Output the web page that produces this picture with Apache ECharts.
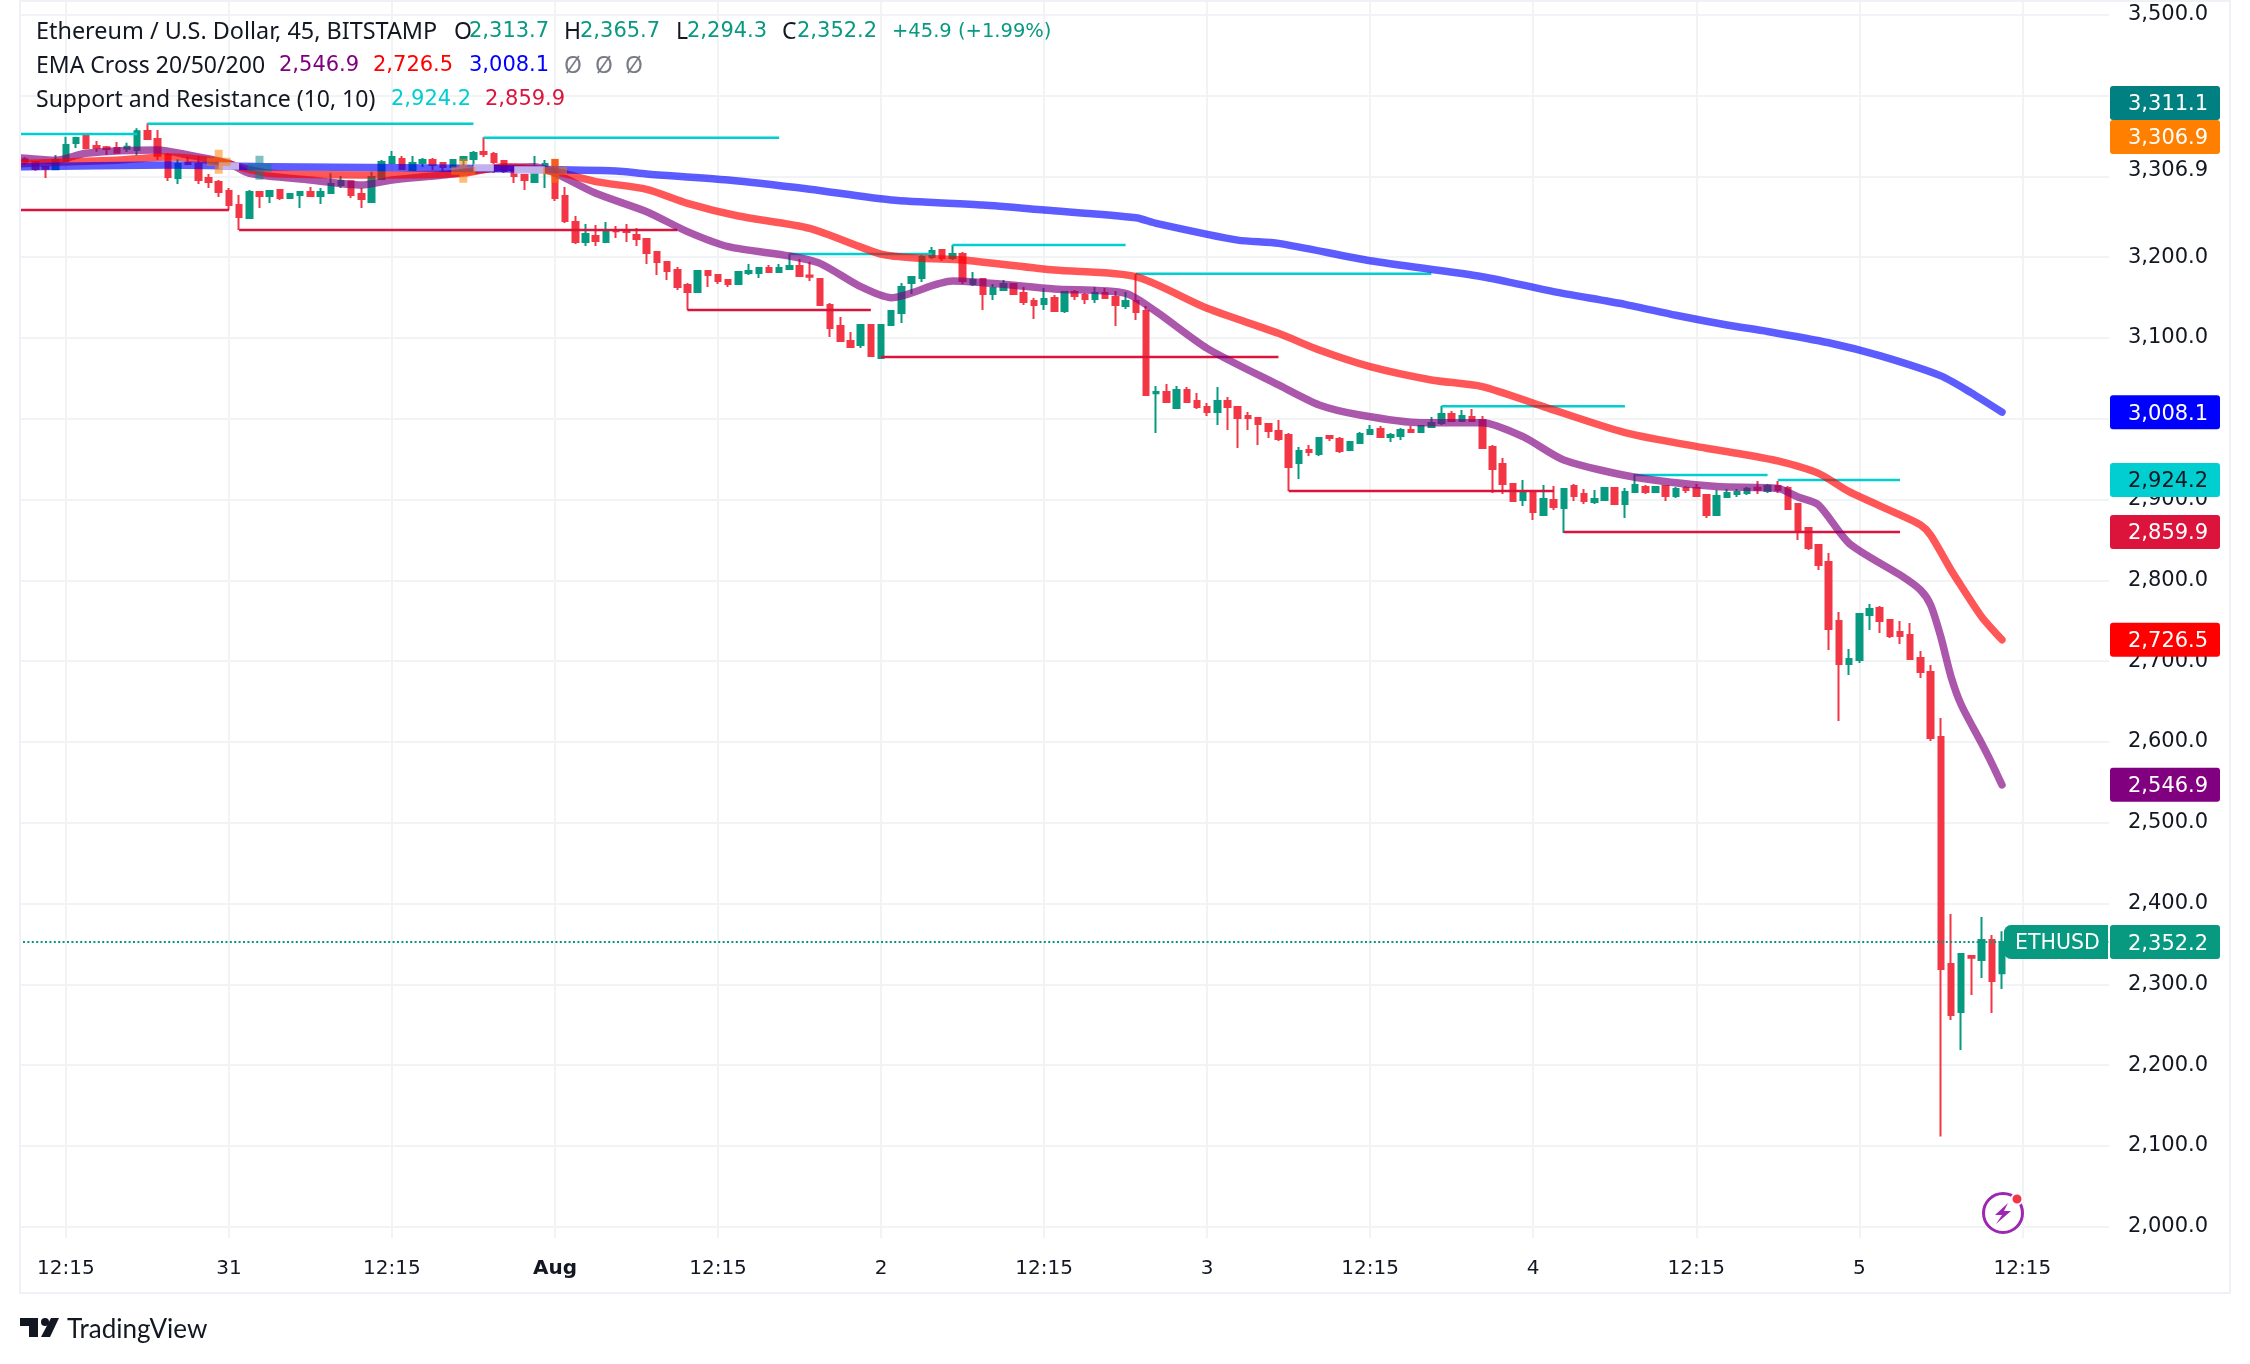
<!DOCTYPE html>
<html><head><meta charset="utf-8">
<style>html,body{margin:0;padding:0;background:#fff}#c{width:2250px;height:1364px}</style>
<script src="https://cdn.jsdelivr.net/npm/echarts@6/dist/echarts.min.js"></script>
</head><body><div id="c"></div>
<script>
// Each candle: open, close, low, high
const candles = [
[3321,3317.3,3314,3323.5],[3317.7,3309,3307,3318.1],[3311.5,3309.5,3297.9,3311.5],[3308.7,3320.2,3307.8,3326.4],
[3318.6,3338.8,3318.6,3349.1],[3341.2,3347.4,3335,3349.1],[3350.3,3335,3333.4,3353.2],[3337.5,3335,3330.5,3343.7],
[3335.9,3333.8,3326.4,3337.5],[3335,3329.3,3328.5,3342.5],[3334.2,3336.7,3330.1,3341.7],[3332.6,3355.7,3326,3359.4],
[3356.1,3346.2,3345,3365.6],[3346.2,3325.6,3320.2,3357.3],[3326.4,3299.2,3294.2,3328.5],[3297.9,3315.3,3290.5,3321],
[3316.9,3315.3,3314,3324.3],[3315.3,3295.4,3290.5,3325.2],[3297.9,3293,3285.6,3302.9],[3293,3280.6,3274.4,3295.4],
[3281.8,3264.5,3258.3,3285.6],[3264.5,3249.7,3233.6,3276.9],[3248.4,3280.6,3248.4,3283.1],[3280.6,3275.7,3260.8,3280.6],
[3275.7,3281.8,3267,3283.1],[3283.1,3273.2,3270.7,3283.1],[3273.2,3278.1,3271.9,3279.4],[3276.9,3280.6,3260.8,3280.6],
[3280.6,3275.7,3275.7,3286.8],[3275.7,3280.6,3265.7,3285.6],[3279.4,3290.5,3279.4,3303.7],[3289.3,3294.2,3285.6,3300.4],
[3293.8,3276.9,3273.2,3293.8],[3278.1,3271.9,3260.8,3285.6],[3268.2,3299.2,3267,3305.8],[3296.7,3317.7,3296.7,3320.2],
[3316.5,3323.9,3316.5,3331.3],[3321.4,3309,3307.8,3325.2],[3307.8,3316.5,3307.8,3325.2],[3316.5,3320.2,3311.5,3322.7],
[3320.2,3314,3307.8,3322.7],[3316.5,3311.5,3305.4,3316.5],[3311.5,3320.2,3311.5,3320.2],[3320.2,3323.9,3314,3323.9],
[3321.4,3328.9,3312.8,3331.3],[3330.1,3327.6,3323.9,3348.3],[3327.6,3317.7,3304.1,3330.1],[3319,3306.6,3304.1,3320.2],
[3307.8,3300.4,3291.7,3314],[3301.6,3295.4,3283.1,3301.6],[3293,3311.5,3293,3325.2],[3313.6,3315.3,3285.6,3320.2],
[3320.2,3273.2,3269.5,3320.2],[3275.7,3244.7,3242.2,3286.8],[3243.5,3218.7,3216.2,3250.9],[3218.7,3228.6,3213.7,3241],
[3226.1,3220,3213.7,3239.7],[3218.7,3232.3,3217.5,3243.4],[3233.5,3231.9,3223.6,3238.5],[3233.5,3231.1,3218.7,3241],
[3227.4,3222.4,3213.7,3236],[3222.4,3205.1,3191.5,3222.4],[3206.3,3194,3177.9,3206.3],[3194,3182.8,3171.7,3194],
[3184,3163,3159.3,3187.8],[3165.5,3156.8,3134.5,3168],[3156.8,3182.8,3155.6,3182.8],[3182.8,3177.9,3163,3182.8],
[3177.9,3170.4,3166.7,3179.1],[3171.7,3166.7,3163,3172.9],[3166.7,3181.6,3166.7,3181.6],[3180.3,3182.8,3177.9,3191.5],
[3180.3,3186.5,3174.2,3186.5],[3186.5,3181.6,3181.6,3190.2],[3181.6,3186.5,3181.6,3191.5],[3185.3,3189,3184,3203.9],
[3189,3176.6,3175.4,3197.7],[3177.4,3175.8,3170.4,3194],[3172.9,3140.7,3140.7,3172.9],[3140.7,3112.3,3101.1,3143.2],
[3114.8,3096.2,3095,3125.9],[3096.2,3088.8,3088.8,3107.3],[3091.2,3116,3087.5,3116],[3116,3077.6,3077.6,3116],
[3075.1,3116,3075.1,3116],[3116,3133.3,3114.8,3134.5],[3130.8,3163,3118.5,3168],[3168,3175.4,3154.3,3176.6],
[3174.2,3200.1,3169.2,3202.6],[3200.1,3207.6,3197.7,3212.5],[3208.8,3198.9,3195.2,3208.8],[3198.9,3203.9,3196.4,3215],
[3203.9,3170.4,3166.7,3206.3],[3166.7,3171.7,3164.2,3181.6],[3172.9,3154.3,3134.5,3172.9],[3154.3,3161.8,3146.9,3166.7],
[3159.3,3166.7,3159.3,3171.7],[3166.7,3154.3,3154.3,3168],[3155.6,3144.4,3140.7,3163],[3145.7,3140.7,3123.4,3149.4],
[3142,3148.2,3134.5,3161.8],[3149.4,3133.3,3133.3,3153.1],[3133.3,3156.8,3130.8,3156.8],[3156.8,3151.9,3146.9,3159.3],
[3153.1,3148.2,3142,3155.6],[3148.2,3155.6,3143.2,3163],[3155.6,3149.4,3149.4,3161.8],[3150.6,3140.7,3114.8,3158],
[3139.5,3145.7,3135.8,3156.8],[3145.7,3132.1,3122.2,3179.1],[3133.3,3029.4,3029.4,3139.5],[3031.5,3033.1,2982.4,3040.5],
[3033.1,3020.7,3020.7,3043],[3013.3,3035.6,3013.3,3040.5],[3035.6,3020.7,3019.5,3039.3],[3022,3014.5,3012,3031.9],
[3014.5,3008.4,3003.4,3019.5],[3008.4,3022,2992.3,3039.3],[3022,3014.5,2986.1,3026.9],[3014.5,3000.9,2963.8,3015.8],
[3003.4,3000.9,2986.1,3008.4],[3000.9,2993.5,2967.5,3002.2],[2993.5,2984.8,2976.2,2994.7],[2984.8,2974.9,2972.5,2998.4],
[2979.9,2940.3,2910.6,2982.4],[2945.2,2960.1,2925.4,2965],[2961.3,2958.9,2953.9,2967.5],[2956.4,2976.2,2953.9,2976.2],
[2978.6,2976.2,2972.5,2979.9],[2974.9,2960.1,2957.6,2977.4],[2961.3,2971.2,2960.1,2971.2],[2970,2981.1,2970,2983.6],
[2981.1,2986.1,2981.1,2992.3],[2987.3,2977.4,2977.4,2991],[2977.4,2979.9,2971.2,2982.4],[2978.6,2986.1,2973.7,2988.5],
[2986.1,2983.6,2983.6,2991],[2983.6,2991,2983.6,2992.3],[2989.8,2994.7,2988.5,3002.2],[2994.7,3005.9,2992.3,3015.8],
[3005.9,2997.2,2997.2,3009.6],[2997.2,3003.4,2997.2,3010.8],[3002.2,2997.2,2997.2,3012],[2998.4,2963.8,2963.8,3003.4],
[2965,2937.8,2908.1,2967.5],[2944,2919.3,2906.9,2951.4],[2919.3,2898.2,2897,2919.3],[2899.5,2908.1,2892,2924.2],
[2908.1,2884.6,2874.7,2908.1],[2880.9,2900.7,2880.9,2918],[2899.5,2890.8,2887.1,2916.8],[2889.5,2913,2858.6,2914.3],
[2916.8,2904.4,2898.2,2919.3],[2906.9,2898.2,2894.5,2913],[2897,2900.7,2894.5,2911.8],[2899.5,2914.3,2899.5,2915.5],
[2914.3,2894.5,2894.5,2915.5],[2894.5,2909.3,2877.2,2914.3],[2909.3,2918,2909.3,2931.6],[2915.5,2909.3,2906.9,2918],
[2909.3,2915.5,2908.1,2916.8],[2916.8,2904.4,2898.2,2916.8],[2904.4,2913,2901.9,2915.5],[2914.3,2911.8,2908.1,2916.8],
[2914.3,2904.4,2904.4,2919.3],[2905.6,2880.8,2877.1,2905.6],[2880.8,2904.3,2880.8,2911.8],[2903.1,2908,2903.1,2913],
[2906.8,2909.3,2903.1,2913],[2908,2913.4,2905.6,2915.5],[2914.6,2912.2,2906.8,2922.9],[2910.5,2916.7,2908,2919.2],
[2916.7,2911.8,2908,2922.9],[2914.2,2888.2,2888.2,2916.7],[2894.4,2861,2849.9,2894.4],[2864.7,2840,2837.5,2866],
[2843.7,2819,2812.8,2843.7],[2822.7,2739.8,2713.8,2833.8],[2749.7,2696.5,2626,2760.8],[2696.5,2702.7,2682.9,2715],
[2701.4,2758.3,2697.7,2759.6],[2757.1,2764.5,2738.6,2770.7],[2765.8,2749.7,2734.8,2768.2],[2750.9,2731.1,2728.7,2750.9],
[2736.1,2731.1,2721.2,2749.7],[2732.4,2702.7,2702.7,2747.2],[2703.9,2686.6,2679.2,2712.6],[2686.6,2604.9,2601.2,2695.2],
[2606,2318.9,2111.5,2629.6],[2325.1,2262,2255.8,2387],[2265.8,2337.5,2218.7,2337.5],[2335,2333,2286.8,2336.3],
[2330.1,2354.9,2307.8,2383.3],[2354.9,2304.1,2264.5,2361],[2313.7,2352.2,2294.3,2365.7]
];
// [bar, value] readings off each moving average
const ema20 = [[-1,3323],[0,3322.3],[3,3320],[6,3328.5],[13,3332.6],[16,3326.4],[20,3316],[22,3303.7],[28,3295.4],[33,3289.3],[36,3295.4],[41,3301.6],[46,3309.9],[50,3312],[52,3304],[56,3279],[61,3256.2],[65,3231.5],[69,3212.9],[75,3201.4],[78,3192.3],[82,3163.4],[85,3149.8],[91,3170.4],[101,3160.5],[108,3155.2],[111,3132.5],[116,3087.1],[123,3041.8],[127,3017],[131,3004.6],[137,2995.1],[143,2995.1],[147,2977.8],[151,2949],[158,2927.5],[166,2916],[172,2913.8],[174,2903],[176,2893.2],[179,2845.8],[184,2806.6],[186,2788],[187,2769.5],[188,2730],[189,2680.8],[190,2646],[192,2598.3],[193,2573.5],[194,2546.9]];
const ema50 = [[-1,3315],[0,3316],[9,3320],[14,3324],[19,3318],[24,3303.7],[35,3301.6],[43,3303.7],[47,3312],[52,3306],[56,3293.4],[61,3283.9],[65,3266.6],[70,3250.9],[77,3235.6],[84,3203.8],[88,3198.5],[92,3196.4],[101,3184],[109,3175.8],[116,3136.6],[123,3105.7],[127,3085],[132,3064.4],[138,3048],[143,3039.7],[149,3015],[157,2982.8],[165,2963.4],[168,2957.2],[172,2947.7],[176,2932.4],[179,2909.7],[184,2880.9],[186,2868.5],[187,2856],[189,2812.8],[190,2793],[192,2755],[194,2726.5]];
const ema200 = [[-1,3312],[0,3312],[14,3314],[24,3312],[37,3310.7],[48,3309],[58,3306.6],[61,3303],[69,3295.4],[77,3284],[85,3270.7],[94,3264.5],[100,3258.3],[109,3248.8],[111,3241.8],[119,3221],[123,3217],[132,3195.6],[143,3175.8],[150,3157.3],[157,3141.6],[162,3128],[167,3116],[171,3108],[177,3094],[182,3078],[188,3053],[191,3032],[194,3008.1]];
// [first bar, last bar, level]
const resistance = [[-1,11,3352.4],[12,44,3365.2],[45,74,3347.8],[75,89,3203.9],[91,108,3215],[109,138,3179.5],[139,157,3015.4],[158,171,2930.3],[172,184,2924.2]];
const support = [[-1,20,3258.3],[21,64,3233.6],[65,83,3134.5],[84,123,3076.4],[124,150,2910.6],[151,184,2859.9]];
// [bar, value] of the EMA crossings
const crossUp = [[23,3310.7]];
const crossDown = [[19,3318],[43,3307],[52,3307]];
const paleSpans = [[19,21,3312.8],[44,46,3310.7],[48,51,3307.8]];
const xTickLabels = ['12:15','31','12:15','Aug','12:15','2','12:15','3','12:15','4','12:15','5','12:15'];
const priceTicks = [2000,2100,2200,2300,2400,2500,2600,2700,2800,2900,3000,3100,3200,3300,3400,3500];
const priceLabels = [2000,2100,2200,2300,2400,2500,2600,2700,2800,2900,3000,3100,3200,3306.9,3500];
const lastPrice = 2352.2;

const GREEN='#089981', RED='#F23645', INK='#131722', GRID='#f2f3f5';
const NUM='"DejaVu Sans"', TXT='"Noto Sans"';
const fmt = v => v.toLocaleString('en-US',{minimumFractionDigits:1,maximumFractionDigits:1});
const LEAD = 1, BANDS = 206, TICK_STEP = 16, FIRST_TICK = 5;
const categories = Array.from({length:BANDS},(_,i)=>{
  const j=(i-FIRST_TICK)/TICK_STEP;
  return Number.isInteger(j)&&j>=0&&j<xTickLabels.length?xTickLabels[j]:'';
});
const shift = a => a.map(([k,v])=>[k+LEAD,v]);
const segs = a => a.flatMap(([s,e,v])=>[[s+LEAD,v],[e+LEAD,v],[e+LEAD,null]]);
const line = (name,data,color,width,z,cap='round',smooth=false) => ({name,type:'line',data,symbol:'none',z,animation:false,silent:true,smooth,
  lineStyle:{color,width,cap,join:'round'},connectNulls:false});
const plus='path://M8 0H16V8H24V16H16V24H8V16H0V8H8Z';

const chart = echarts.init(document.getElementById('c'),null,{renderer:'canvas',width:2250,height:1364});
chart.setOption({
  animation:false, backgroundColor:'#fff',
  grid:{left:9.81,top:1,width:2099.14,height:1237,containLabel:false},
  xAxis:{type:'category',data:categories,boundaryGap:true,
    axisLine:{show:false},
    axisTick:{show:false,alignWithLabel:true},
    splitLine:{show:true,alignWithLabel:true,interval:(i,v)=>v!=='',lineStyle:{color:GRID,width:2}},
    axisLabel:{interval:(i,v)=>v!=='',margin:21,color:INK,fontFamily:NUM,fontSize:20,
      formatter:v=>v==='Aug'?'{b|Aug}':v,rich:{b:{fontWeight:'bold',fontFamily:NUM,fontSize:20,color:INK}}}},
  yAxis:{type:'value',position:'right',min:1986,max:3517,scale:true,
    axisLine:{show:false},
    axisTick:{show:false,customValues:priceTicks},
    splitLine:{show:true,lineStyle:{color:GRID,width:2}},
    axisLabel:{customValues:priceLabels,margin:19,color:INK,fontFamily:NUM,fontSize:21,align:'left',padding:[5,0,0,0],formatter:fmt,showMinLabel:true,showMaxLabel:true}},
  series:[
    {name:'ETHUSD',type:'candlestick',data:['-'].concat(candles),barWidth:6,z:2,animation:false,silent:true,
      itemStyle:{color:GREEN,color0:RED,borderColor:GREEN,borderColor0:RED,borderWidth:2},
      markLine:{silent:true,symbol:'none',animation:false,label:{show:false},
        lineStyle:{color:GREEN,type:[2,2.4],width:2},data:[{yAxis:lastPrice}]}},
    line('Resistance',segs(resistance),'#00CED1',2.5,3,'butt'),
    line('Support',segs(support),'#DC143C',2.5,3,'butt'),
    line('EMA 20',shift(ema20),'rgba(128,0,128,0.66)',7.5,4,'round',0.25),
    line('EMA 50',shift(ema50),'rgba(255,0,0,0.66)',7.5,4,'round',0.25),
    line('EMA 200',shift(ema200),'rgba(0,0,255,0.64)',7.5,4,'round',0.25),
    line('Crossing',segs(paleSpans),'rgba(205,190,238,0.92)',7.5,4,'butt'),
    {name:'Cross up',type:'scatter',data:shift(crossUp),symbol:plus,symbolSize:24,z:5,silent:true,itemStyle:{color:'rgba(0,128,128,0.62)'}},
    {name:'Cross down',type:'scatter',data:shift(crossDown),symbol:plus,symbolSize:24,z:5,silent:true,itemStyle:{color:'rgba(255,127,0,0.66)'}}
  ]
});

// Overlay: frame, legend, price badges, logo
const T=(text,x,y,fill,font=NUM,size=21,weight='normal')=>({type:'text',z:200,style:{text,x,y:y+2,fill,font:`${weight} ${size}px ${font}`,textVerticalAlign:'middle',textAlign:'left'}});
const R=(x,y,w,h,fill,r=0)=>({type:'rect',z:190,shape:{x,y,width:w,height:h,r},style:{fill}});
const FR='#f0f1f6';
const py = v => chart.convertToPixel({yAxisIndex:0},v);
const badges=[
  {y:py(3008.1),bg:'#0000FF',fg:'#fff',text:'3,008.1'},
  {y:py(2924.2),bg:'#00CED1',fg:'#131722',text:'2,924.2'},
  {y:py(2859.9),bg:'#DC143C',fg:'#fff',text:'2,859.9'},
  {y:py(2726.5),bg:'#FF0000',fg:'#fff',text:'2,726.5'},
  {y:py(2546.9),bg:'#800080',fg:'#fff',text:'2,546.9'},
  {y:py(2352.2),bg:GREEN,fg:'#fff',text:'2,352.2'},
  {y:103,bg:'#008080',fg:'#fff',text:'3,311.1'},
  {y:137,bg:'#FF7F00',fg:'#fff',text:'3,306.9'}
];
const g=[
  R(0,0,20,1364,'#fff'),
  R(20,0,2211,2,FR),R(19,0,2,1294,FR),R(19,1292,2212,2,FR),R(2229,0,2,1294,FR),
  T('Ethereum / U.S. Dollar, 45, BITSTAMP',36,30,INK,TXT,23.4),
  T('O',454,30,INK,TXT,23),T('2,313.7',469,30,GREEN),
  T('H',564,30,INK,TXT,23),T('2,365.7',580,30,GREEN),
  T('L',676,30,INK,TXT,23),T('2,294.3',687,30,GREEN),
  T('C',782,30,INK,TXT,23),T('2,352.2',797,30,GREEN),
  T('+45.9 (+1.99%)',892,30,GREEN,NUM,19.5),
  T('EMA Cross 20/50/200',36,64,INK,TXT,23),
  T('2,546.9',279,64,'#800080'),T('2,726.5',373,64,'#FF0000'),T('3,008.1',469,64,'#0000FF'),
  T('Ø',564,64,'#787b86',TXT,23),T('Ø',595,64,'#787b86',TXT,23),T('Ø',625,64,'#787b86',TXT,23),
  T('Support and Resistance (10, 10)',36,98,INK,TXT,23),
  T('2,924.2',391,98,'#00CED1'),T('2,859.9',485,98,'#DC143C'),
  R(2004,py(lastPrice)-17,104,34,GREEN,[7,0,0,7]),
  T('ETHUSD',2015,py(lastPrice),'#fff',NUM,20.5),
  // lightning icon
  {type:'circle',z:190,shape:{cx:2003,cy:1213,r:19.5},style:{fill:'#fff',stroke:'#9C27B0',lineWidth:3}},
  {type:'polygon',z:191,shape:{points:[[2008,1203],[1995,1215],[2002,1215],[1996,1224],[2011,1211],[2004,1211]]},style:{fill:'#9C27B0'}},
  {type:'circle',z:192,shape:{cx:2017,cy:1199,r:5.5},style:{fill:'#F23645',stroke:'#fff',lineWidth:2}},
  // logo
  {type:'polygon',z:190,shape:{points:[[20,1318],[38,1318],[38,1337],[29,1337],[29,1326],[20,1326]]},style:{fill:INK}},
  {type:'circle',z:190,shape:{cx:45,cy:1322,r:4},style:{fill:INK}},
  {type:'polygon',z:190,shape:{points:[[51,1318],[59,1318],[50,1337],[41,1337]]},style:{fill:INK}},
  T('TradingView',67,1328,INK,'"Lato"',26)
];
badges.forEach(b=>{g.push(R(2110,b.y-17,110,34,b.bg,3));g.push(T(b.text,2128,b.y,b.fg));});
chart.setOption({graphic:{elements:g}});
</script></body></html>
